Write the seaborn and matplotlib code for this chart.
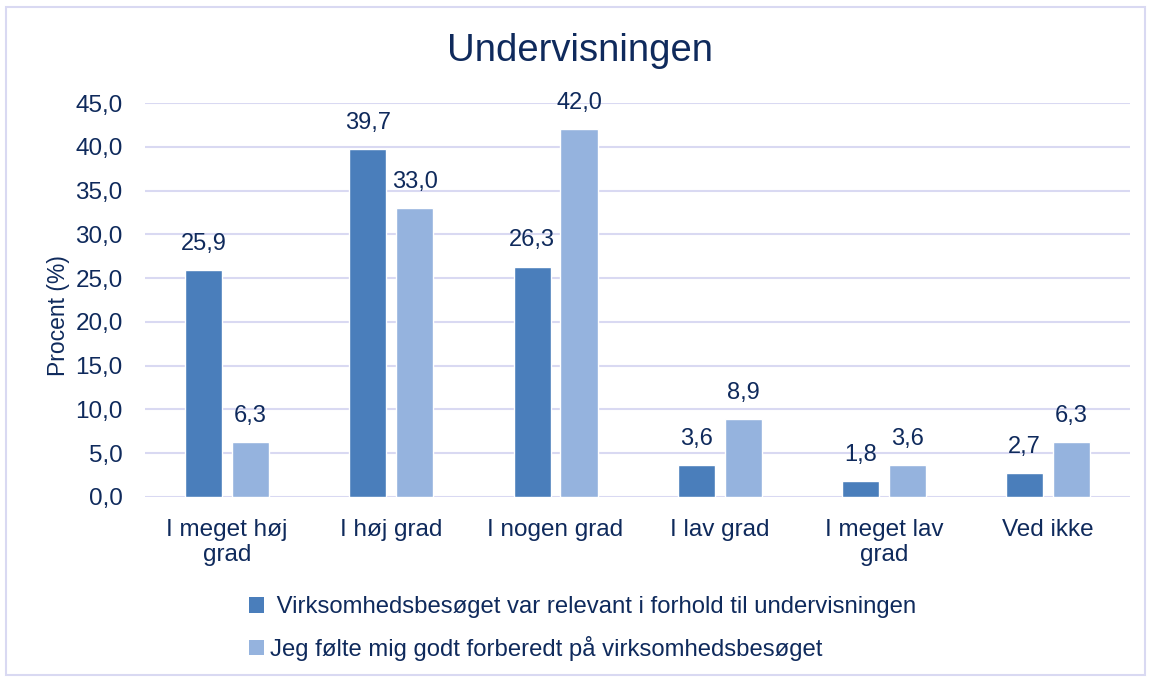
import matplotlib
matplotlib.use("Agg")
import matplotlib.pyplot as plt
from matplotlib.patches import Rectangle, Patch
import seaborn as sns
import pandas as pd

categories = ["I meget høj\ngrad", "I høj grad", "I nogen grad", "I lav grad", "I meget lav\ngrad", "Ved ikke"]
series_names = ["Virksomhedsbesøget var relevant i forhold til undervisningen",
                "Jeg følte mig godt forberedt på virksomhedsbesøget"]
relevant = [25.9, 39.7, 26.3, 3.6, 1.8, 2.7]
prepared = [6.3, 33.0, 42.0, 8.9, 3.6, 6.3]
yticks = [0, 5, 10, 15, 20, 25, 30, 35, 40, 45]

df = pd.DataFrame({
    "kategori": categories * 2,
    "serie": [series_names[0]] * len(categories) + [series_names[1]] * len(categories),
    "procent": relevant + prepared,
})

sns.set_theme(style="white")
plt.rcParams["font.family"] = ["Liberation Sans", "DejaVu Sans"]

navy = "#0f2a5c"
grid_c = "#d9d9f2"
palette = {series_names[0]: "#4a7ebb", series_names[1]: "#95b3de"}

fig = plt.figure(figsize=(11.51, 6.78), dpi=100)
ax = fig.add_axes([0.126, 0.267, 0.856, 0.581])

sns.barplot(data=df, x="kategori", y="procent", hue="serie", palette=palette,
            width=0.572, gap=0.21, ax=ax, legend=False, saturation=1)

for cont in ax.containers:
    ax.bar_label(cont, labels=[f"{v:.1f}".replace(".", ",") for v in cont.datavalues],
                 padding=11, fontsize=17, color=navy)

ax.set_ylim(0, 45)
ax.set_yticks(yticks)
ax.set_yticklabels([f"{v:.1f}".replace(".", ",") for v in yticks], fontsize=17.5, color=navy)
ax.set_xticks(range(len(categories)))
ax.set_xticklabels(categories, fontsize=17.5, color=navy, linespacing=1.15)
ax.tick_params(axis="both", length=0)
ax.tick_params(axis="y", pad=16)
ax.tick_params(axis="x", pad=16)
ax.set_xlabel("")
ax.set_ylabel("Procent (%)", fontsize=16.5, color=navy)
ax.yaxis.set_label_coords(-0.076, 0.46)
ax.set_xlim(-0.5, len(categories) - 0.5)
ax.grid(axis="y", color=grid_c, linewidth=1.5)
ax.set_axisbelow(True)
for s in ax.spines.values():
    s.set_visible(False)

fig.text(0.504, 0.925, "Undervisningen", ha="center", va="center", fontsize=27.5, color=navy)

handles = [Patch(facecolor=palette[n], edgecolor="none") for n in series_names]
leg = fig.legend(handles, [" " + series_names[0], series_names[1]], loc="upper left",
                 bbox_to_anchor=(0.216, 0.121), frameon=False, fontsize=17.2,
                 handlelength=0.65, handleheight=0.65, handletextpad=0.25, labelspacing=0.75,
                 borderaxespad=0, borderpad=0)
for t in leg.get_texts():
    t.set_color(navy)

fig.patches.append(Rectangle((0.005, 0.005), 0.99, 0.984, transform=fig.transFigure,
                             fill=False, edgecolor=grid_c, linewidth=1.5))

fig.savefig("out.png", dpi=100)
